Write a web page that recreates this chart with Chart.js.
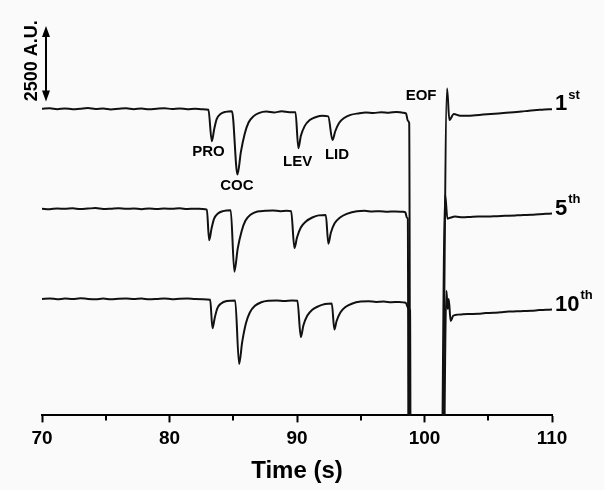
<!DOCTYPE html>
<html><head><meta charset="utf-8">
<script src="https://cdn.jsdelivr.net/npm/chart.js@4.4.1/dist/chart.umd.min.js"></script>
<style>html,body{margin:0;padding:0;background:#fafafa;} canvas{display:block;}</style>
</head><body>
<canvas id="c" width="604" height="490"></canvas>
<script>
// ---- data ----
const xTicks = [70, 80, 90, 100, 110];
const minorTicks = [75, 85, 95, 105];
const traceNames = [['1', 'st'], ['5', 'th'], ['10', 'th']];
const traceOffsets = [10130, 6830, 3850];   // A.U. vertical offset of each run

const t1 = [70, 70.6, 71.2, 71.8, 72.4, 73, 73.6, 74.2, 74.8, 75.4, 76, 76.6, 77.2, 77.8, 78.4, 79, 79.6, 80.2, 80.8, 81.4, 82, 82.6, 83.05, 83.32, 83.5, 83.7, 84.0, 84.4, 84.9, 85.33, 85.6, 85.9, 86.2, 86.6, 87.0, 87.6, 88.2, 88.8, 89.4, 89.88, 90.11, 90.3, 90.6, 91.0, 91.5, 92.0, 92.45, 92.78, 93.0, 93.3, 93.7, 94.2, 94.8, 95.4, 96.0, 96.6, 97.2, 97.8, 98.3, 98.55, 98.7, 98.8, 98.9, 101.3, 101.77, 101.95, 102.3, 102.8, 103.4, 104.0, 104.6, 105.2, 105.8, 106.4, 107.0, 107.6, 108.2, 108.8, 109.4, 110];
const v1 = [0, 20, -10, 15, -15, 5, 25, -5, 10, -20, 0, 20, -10, 10, -15, 5, 20, -5, 10, -10, 5, -10, -30, -1070, -680, -340, -170, -100, -80, -2170, -1420, -820, -450, -240, -140, -90, -120, -80, -110, -110, -1300, -900, -570, -370, -270, -230, -250, -1030, -740, -470, -300, -200, -150, -120, -140, -110, -130, -100, -130, -150, -400, -470, -15000, -15000, 670, -370, -170, -230, -230, -210, -190, -170, -150, -130, -110, -90, -60, -40, -20, -10];

const t5 = [70, 70.6, 71.2, 71.8, 72.4, 73, 73.6, 74.2, 74.8, 75.4, 76, 76.6, 77.2, 77.8, 78.4, 79, 79.6, 80.2, 80.8, 81.4, 82, 82.6, 82.93, 83.11, 83.3, 83.5, 83.8, 84.2, 84.8, 85.09, 85.35, 85.65, 85.95, 86.35, 86.9, 87.5, 88.1, 88.7, 89.2, 89.54, 89.80, 90.0, 90.3, 90.7, 91.2, 91.7, 92.26, 92.46, 92.65, 92.95, 93.35, 93.9, 94.7, 95.3, 95.9, 96.5, 97.1, 97.7, 98.3, 98.5, 98.62, 98.69, 98.78, 101.2, 101.62, 101.8, 102.0, 102.4, 103.0, 103.6, 104.2, 104.8, 105.4, 106.0, 106.6, 107.2, 107.8, 108.4, 109.0, 109.5, 110];
const v5 = [0, -15, 10, -5, 15, -10, 5, 20, -10, 0, 15, -5, 10, -15, 5, -10, 10, -5, 15, -10, 0, -10, -30, -1040, -650, -330, -160, -80, -50, -2080, -1320, -750, -400, -200, -90, -70, -60, -80, -70, -80, -1300, -950, -620, -420, -290, -220, -210, -1160, -800, -480, -300, -170, -80, -70, -90, -80, -100, -90, -100, -120, -300, -330, -15000, -15000, 460, -330, -300, -260, -280, -270, -260, -260, -250, -240, -230, -220, -210, -200, -180, -170, -160];

const t10 = [70, 70.6, 71.2, 71.8, 72.4, 73, 73.6, 74.2, 74.8, 75.4, 76, 76.6, 77.2, 77.8, 78.4, 79, 79.6, 80.2, 80.8, 81.4, 82, 82.6, 83.19, 83.37, 83.55, 83.75, 84.05, 84.5, 85.15, 85.46, 85.7, 86.0, 86.3, 86.7, 87.2, 87.8, 88.4, 89.0, 89.6, 90.03, 90.30, 90.5, 90.8, 91.2, 91.7, 92.2, 92.73, 92.93, 93.1, 93.4, 93.8, 94.3, 95.0, 95.6, 96.2, 96.8, 97.4, 98.0, 98.4, 98.55, 98.75, 98.87, 98.95, 101.3, 101.72, 101.82, 101.9, 102.05, 102.25, 102.6, 103.0, 103.6, 104.2, 104.8, 105.4, 106.0, 106.6, 107.2, 107.8, 108.4, 109.0, 109.5, 110];
const v10 = [0, 15, -10, 10, -5, 20, 0, -10, 10, -15, 5, 15, -5, 10, -10, 0, 15, -10, 5, 10, -5, -10, -30, -970, -620, -310, -150, -70, -50, -2150, -1430, -800, -450, -230, -110, -60, -50, -70, -50, -60, -1260, -880, -560, -360, -240, -170, -150, -1010, -740, -450, -270, -160, -90, -80, -100, -90, -110, -100, -120, -140, -330, -380, -15000, -15000, 270, -330, 0, -730, -560, -520, -510, -500, -490, -470, -460, -440, -420, -410, -400, -390, -370, -360, -350];

const peakLabels = ['PRO', 'COC', 'LEV', 'LID', 'EOF'];
const peakLabelT = [83.05, 85.28, 90.05, 93.14, 99.73];
const peakLabelV = [8710, 7600, 8373, 8623, 10550];
const scaleBarAU = 2500;
const scaleBarTop = 12870;
const scaleBarX = 70.33;

// ---- build ----
const FONT = '"Liberation Sans", Arial, sans-serif';
const times = [t1, t5, t10];
const vals = [v1, v5, v10];
const datasets = times.map((ts, i) => ({
  data: ts.map((t, j) => ({ x: t, y: vals[i][j] + traceOffsets[i] })),
  borderColor: '#111',
  borderWidth: 2,
  pointRadius: 0,
  fill: false,
  cubicInterpolationMode: 'monotone'
}));

const decor = {
  id: 'decor',
  beforeDraw(chart) {
    const c = chart.ctx;
    c.save(); c.fillStyle = '#fafafa'; c.fillRect(0, 0, chart.width, chart.height); c.restore();
  },
  afterDraw(chart) {
    const { ctx, chartArea, scales: { x, y } } = chart;
    ctx.save();
    ctx.strokeStyle = '#000'; ctx.fillStyle = '#000'; ctx.lineWidth = 2;
    // minor ticks
    minorTicks.forEach(v => {
      const px = Math.round(x.getPixelForValue(v));
      ctx.beginPath(); ctx.moveTo(px, chartArea.bottom); ctx.lineTo(px, chartArea.bottom + 5); ctx.stroke();
    });
    // peak labels
    ctx.font = 'bold 15px ' + FONT; ctx.textAlign = 'center'; ctx.textBaseline = 'middle';
    peakLabels.forEach((s, i) => ctx.fillText(s, x.getPixelForValue(peakLabelT[i]), y.getPixelForValue(peakLabelV[i])));
    // run labels
    ctx.textAlign = 'left';
    traceNames.forEach((nm, i) => {
      const last = vals[i][vals[i].length - 1] + traceOffsets[i];
      const py = y.getPixelForValue(last) - 5;
      const px = chartArea.right + 3;
      ctx.font = 'bold 22px ' + FONT;
      ctx.fillText(nm[0], px, py);
      const w = ctx.measureText(nm[0]).width;
      ctx.font = 'bold 13px ' + FONT;
      ctx.fillText(nm[1], px + w + 1, py - 9);
    });
    // scale bar
    const bx = Math.round(x.getPixelForValue(scaleBarX));
    const yt = y.getPixelForValue(scaleBarTop), yb = y.getPixelForValue(scaleBarTop - scaleBarAU);
    ctx.beginPath(); ctx.moveTo(bx, yt + 6); ctx.lineTo(bx, yb - 6); ctx.stroke();
    ctx.beginPath(); ctx.moveTo(bx, yt); ctx.lineTo(bx - 4, yt + 11); ctx.lineTo(bx + 4, yt + 11); ctx.closePath(); ctx.fill();
    ctx.beginPath(); ctx.moveTo(bx, yb); ctx.lineTo(bx - 4, yb - 11); ctx.lineTo(bx + 4, yb - 11); ctx.closePath(); ctx.fill();
    ctx.translate(bx - 14, (yt + yb) / 2 - 3);
    ctx.rotate(-Math.PI / 2);
    ctx.font = 'bold 18px ' + FONT; ctx.textAlign = 'center'; ctx.textBaseline = 'middle';
    ctx.fillText(scaleBarAU + ' A.U.', 0, 0);
    ctx.restore();
  }
};

new Chart(document.getElementById('c'), {
  type: 'line',
  data: { datasets },
  options: {
    responsive: false,
    devicePixelRatio: 1,
    animation: false,
    layout: { padding: { left: 42, right: 52, top: 22, bottom: 4 } },
    plugins: { legend: { display: false }, tooltip: { enabled: false } },
    scales: {
      x: {
        type: 'linear', min: 70, max: 110,
        afterBuildTicks(scale) { scale.ticks = xTicks.map(v => ({ value: v })); },
        ticks: { color: '#000', font: { family: FONT, size: 19, weight: 'bold' }, padding: 5, maxRotation: 0, autoSkip: false },
        grid: { drawOnChartArea: false, drawTicks: true, tickLength: 7, tickColor: '#000', tickWidth: 2 },
        border: { display: true, color: '#000', width: 2 },
        title: { display: true, text: 'Time (s)', color: '#000', font: { family: FONT, size: 24, weight: 'bold' }, padding: { top: 2, bottom: 0 } }
      },
      y: { type: 'linear', min: 0, max: 13000, display: false }
    }
  },
  plugins: [decor]
});
</script>
</body></html>
